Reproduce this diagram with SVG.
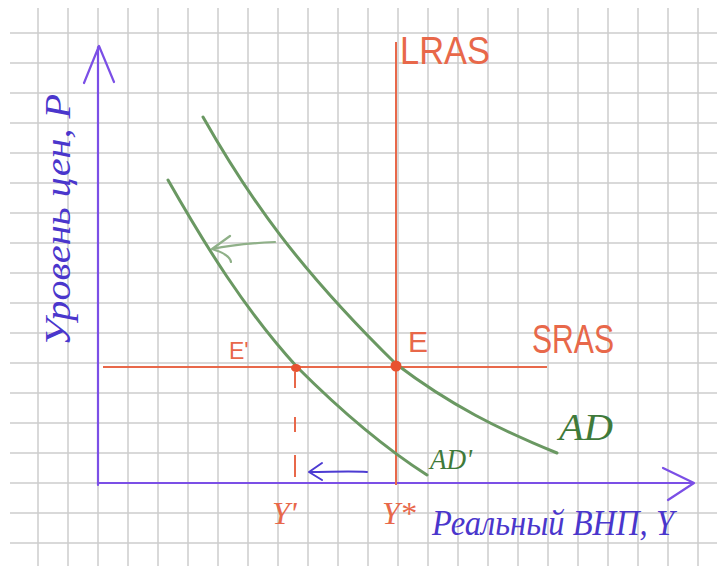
<svg xmlns="http://www.w3.org/2000/svg" width="717" height="566" viewBox="0 0 717 566">
<defs>
<style>
.grid{stroke:#cdcdcd;stroke-width:1.5;fill:none}
.axis{stroke:#7b4fe6;stroke-width:2.2;fill:none;stroke-linecap:round;stroke-linejoin:round}
.red{stroke:#e8684a;stroke-width:2;fill:none}
.green{stroke:#6a9862;stroke-width:3;fill:none;stroke-linecap:round}
.garrow{stroke:#8fb088;stroke-width:2.2;fill:none;stroke-linecap:round;stroke-linejoin:round}
.barrow{stroke:#4c3bd2;stroke-width:2;fill:none;stroke-linecap:round;stroke-linejoin:round}
.rtxt{fill:#e8684a;font-family:"Liberation Sans",Arial,sans-serif}
.gtxt{fill:#3f7a3a;font-family:"Liberation Serif",serif;font-style:italic}
.btxt{fill:#4a36cc;font-family:"Liberation Serif",serif;font-style:italic}
.ytxt{fill:#e8684a;font-family:"Liberation Serif",serif;font-style:italic}
</style>
</defs>
<rect width="717" height="566" fill="#ffffff"/>
<g id="grid" class="grid">
<path d="M38,8V566M68,8V566M98,8V566M128,8V566M158,8V566M188,8V566M218,8V566M248,8V566M278,8V566M308,8V566M338,8V566M368,8V566M398,8V566M428,8V566M458,8V566M488,8V566M518,8V566M548,8V566M578,8V566M608,8V566M638,8V566M668,8V566M698,8V566"/>
<path d="M10,33H717M10,63H717M10,93H717M10,123H717M10,153H717M10,183H717M10,213H717M10,243H717M10,273H717M10,303H717M10,333H717M10,363H717M10,393H717M10,423H717M10,453H717M10,483H717M10,513H717M10,543H717"/>
</g>
<g id="axes">
<path class="axis" d="M98,485V47M84,83L99,46L114,82"/>
<path class="axis" d="M98,483H694M663,468L694,483L668,500"/>
<text class="btxt" transform="translate(70,346) rotate(-90)" font-size="36" textLength="252" lengthAdjust="spacingAndGlyphs">Уровень цен, P</text>
<text class="btxt" x="432" y="535" font-size="36" textLength="242" lengthAdjust="spacingAndGlyphs">Реальный ВНП, Y</text>
</g>
<g id="LRAS">
<path class="red" d="M396,42V485"/>
<text class="rtxt" x="400" y="64" font-size="38" textLength="90" lengthAdjust="spacingAndGlyphs">LRAS</text>
</g>
<g id="SRAS">
<path class="red" d="M103,367H547"/>
<text class="rtxt" x="532" y="353" font-size="40" textLength="82" lengthAdjust="spacingAndGlyphs">SRAS</text>
</g>
<g id="AD">
<path class="green" d="M203,117C250,200 300,270 396,364C450,405 500,430 557,453"/>
<text class="gtxt" x="559" y="440" font-size="38" textLength="54" lengthAdjust="spacingAndGlyphs">AD</text>
</g>
<g id="AD1">
<path class="green" d="M168,180C205,245 245,310 297,367C340,410 380,445 427,475"/>
<text class="gtxt" x="430" y="469" font-size="30" textLength="42" lengthAdjust="spacingAndGlyphs">AD'</text>
</g>
<g id="E">
<circle cx="396" cy="366" r="5.5" fill="#e8522f"/>
<text class="rtxt" x="408" y="352" font-size="30">E</text>
</g>
<g id="E1">
<ellipse cx="296" cy="368" rx="5" ry="4" fill="#e8522f"/>
<text class="rtxt" x="229" y="359" font-size="23">E'</text>
</g>
<g id="Y1">
<text class="ytxt" x="272" y="524" font-size="32">Y'</text>
</g>
<g id="Ystar">
<text class="ytxt" x="382" y="524" font-size="32">Y*</text>
</g>
<g id="connectors">
<path class="red" d="M295,372V388M295,417V432M295,455V477"/>
<path class="garrow" d="M275,242C255,243 232,245 212,249M230,236L212,249C222,252 230,256 231,262"/>
<path class="barrow" d="M367,472C350,471 330,472 309,472M322,463L309,472L322,480"/>
</g>
</svg>
